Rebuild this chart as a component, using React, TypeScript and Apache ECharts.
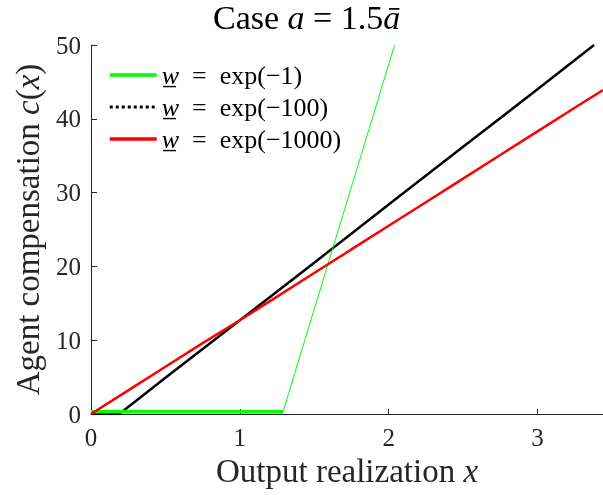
import React, { useEffect, useRef } from "react";
import * as echarts from "echarts";

const greenFlat: [number, number][] = [[0, 0.3], [1.29, 0.3]];
const greenSteep: [number, number][] = [[1.29, 0.3], [2.04, 50]];
const blackLine: [number, number][] = [
  [0, 0], [0.19, 0], [0.5, 4.9], [1.0, 12.7], [1.5, 20.5], [2.0, 28.4],
  [2.5, 36.2], [3.0, 44.0], [3.38, 50],
];
const redLine: [number, number][] = [
  [0, 0], [0.25, 3.2], [0.5, 6.4], [0.75, 9.6], [1.0, 12.7], [1.25, 15.9],
  [1.5, 19.1], [1.75, 22.3], [2.0, 25.5], [2.25, 28.7], [2.5, 31.9],
  [2.75, 35.1], [3.0, 38.3], [3.25, 41.5], [3.44, 43.9],
];
const legendNames = [
  "{i|w̲}\u2002=\u2002exp(−1)",
  "{i|w̲}\u2002=\u2002exp(−100)",
  "{i|w̲}\u2002=\u2002exp(−1000)",
];

const FONT = "Liberation Serif";
const AX = "#262626";

export default function App() {
  const ref = useRef<HTMLDivElement>(null);
  useEffect(() => {
    const chart = echarts.init(ref.current!, undefined, { renderer: "svg" });
    chart.setOption({
      animation: false,
      textStyle: { fontFamily: FONT },
      title: {
        text: "Case {i|a} = 1.5{i|ā}",
        left: 213,
        top: 0,
        padding: 0,
        textStyle: {
          fontFamily: FONT,
          fontSize: 34,
          fontWeight: "normal",
          color: "#000",
          rich: { i: { fontFamily: FONT, fontSize: 34, fontStyle: "italic", color: "#000" } },
        },
      },
      legend: {
        orient: "vertical",
        left: 108,
        top: 62,
        padding: 0,
        itemWidth: 47,
        itemHeight: 3,
        itemGap: 6,
        itemStyle: { opacity: 0 },
        data: [
          { name: legendNames[0], lineStyle: { color: "#00ff00", width: 3.5 } },
          { name: legendNames[1], lineStyle: { color: "#000000", type: "dotted", width: 3 } },
          { name: legendNames[2], lineStyle: { color: "#ff0000", width: 3.5 } },
        ],
        textStyle: {
          fontFamily: FONT,
          fontSize: 26,
          lineHeight: 26,
          color: "#000",
          rich: { i: { fontFamily: FONT, fontSize: 26, lineHeight: 26, fontStyle: "italic", color: "#000" } },
        },
      },
      grid: { left: 91, right: 0, top: 45, bottom: 81 },
      xAxis: {
        type: "value",
        min: 0,
        max: 3.44,
        interval: 1,
        name: "Output realization {i|x}",
        nameLocation: "middle",
        nameGap: 39,
        nameTextStyle: {
          fontFamily: FONT,
          fontSize: 33,
          color: AX,
          rich: { i: { fontFamily: FONT, fontSize: 33, fontStyle: "italic", color: AX } },
        },
        axisLine: { lineStyle: { color: AX, width: 1 } },
        axisTick: { inside: true, length: 5, lineStyle: { color: AX } },
        axisLabel: { fontFamily: FONT, fontSize: 25, color: AX, margin: 11, showMaxLabel: false },
        splitLine: { show: false },
      },
      yAxis: {
        type: "value",
        min: 0,
        max: 50,
        interval: 10,
        name: "Agent compensation {i|c}({i|x})",
        nameLocation: "middle",
        nameGap: 47,
        nameTextStyle: {
          fontFamily: FONT,
          fontSize: 33,
          color: AX,
          rich: { i: { fontFamily: FONT, fontSize: 33, fontStyle: "italic", color: AX } },
        },
        axisLine: { show: true, lineStyle: { color: AX, width: 1 } },
        axisTick: { show: true, inside: true, length: 6, lineStyle: { color: AX } },
        axisLabel: { fontFamily: FONT, fontSize: 25, color: AX, margin: 10 },
        splitLine: { show: false },
      },
      series: [
        {
          name: legendNames[0],
          type: "line",
          data: greenFlat,
          symbol: "none",
          lineStyle: { color: "#00ff00", width: 3.5 },
          itemStyle: { color: "#00ff00" },
          z: 3,
        },
        {
          name: legendNames[0],
          type: "line",
          data: greenSteep,
          symbol: "none",
          lineStyle: { color: "#00ff00", width: 1 },
          itemStyle: { color: "#00ff00" },
          z: 3,
        },
        {
          name: legendNames[1],
          type: "line",
          data: blackLine,
          symbol: "none",
          lineStyle: { color: "#000000", width: 2.5 },
          itemStyle: { color: "#000000" },
          z: 2,
        },
        {
          name: legendNames[2],
          type: "line",
          data: redLine,
          symbol: "none",
          lineStyle: { color: "#ff0000", width: 2.5 },
          itemStyle: { color: "#ff0000" },
          z: 4,
        },
      ],
    });
    return () => chart.dispose();
  }, []);
  return <div ref={ref} style={{ width: 603, height: 495, position: "fixed", left: 0, top: 0 }} />;
}
